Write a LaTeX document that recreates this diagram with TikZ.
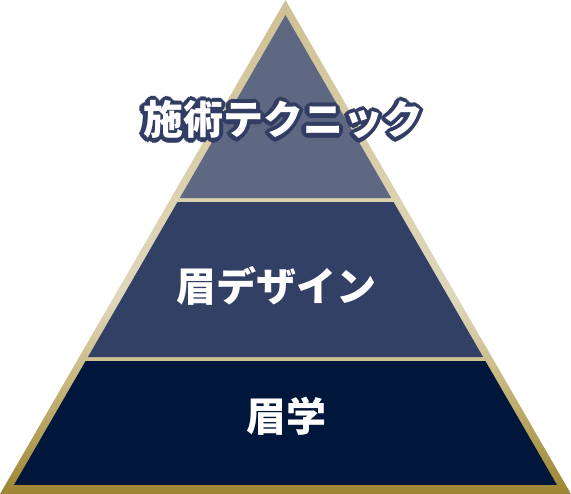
\documentclass[tikz,border=0pt]{standalone}
\usepackage{fontspec}
\setmainfont{Noto Sans CJK JP}
\usetikzlibrary{calc}
\definecolor{goldA}{HTML}{CFC194}
\definecolor{goldB}{HTML}{DCD2AF}
\definecolor{goldC}{HTML}{DFD7BC}
\definecolor{goldD}{HTML}{C8B87F}
\definecolor{goldE}{HTML}{9E8532}
\definecolor{layerTop}{HTML}{5E6882}
\definecolor{layerMid}{HTML}{334066}
\definecolor{layerBot}{HTML}{00163A}
\definecolor{outlineC}{HTML}{313D62}
\pgfdeclareverticalshading{goldshade}{100bp}{%
  color(0bp)=(goldE); color(25bp)=(goldE); color(36.5bp)=(goldD);
  color(44.6bp)=(goldC); color(54.8bp)=(goldB); color(75bp)=(goldA); color(100bp)=(goldA)}
\tikzset{
  layerlabel/.style={anchor=base, text=white, font=\bfseries\fontsize{40}{40}\selectfont, inner sep=0pt},
  outlinecopy/.style={anchor=base, text=outlineC, font=\bfseries\fontsize{40}{40}\selectfont, inner sep=0pt}
}
\begin{document}
\begin{tikzpicture}[x=1pt,y=-1pt]
\useasboundingbox (0,0) rectangle (571,494);
% outer gold frame
\coordinate (OA) at (285.5,0);
\coordinate (OL) at (0,494);
\coordinate (OR) at (571,494);
\path[shading=goldshade] (OA) -- (OL) -- (OR) -- cycle;
% inner triangle
\coordinate (A) at (285.5,15);
\coordinate (L) at (14,485);
\coordinate (R) at (557,485);
% top layer
\fill[layerTop] (A) -- ($(A)!0.3894!(L)$) -- ($(A)!0.3894!(R)$) -- cycle;
% middle layer
\fill[layerMid] ($(A)!0.3979!(L)$) -- ($(A)!0.7277!(L)$) -- ($(A)!0.7277!(R)$) -- ($(A)!0.3979!(R)$) -- cycle;
% bottom layer
\fill[layerBot] ($(A)!0.7362!(L)$) -- (L) -- (R) -- ($(A)!0.7362!(R)$) -- cycle;
% top label with outline
\foreach \ang in {0,22.5,...,337.5}{
  \node[outlinecopy] at ($(283,135)+(\ang:4.2)$) {施術テクニック};
}
\node[layerlabel] (toplabel) at (283,135) {施術テクニック};
\node[layerlabel] (midlabel) at (276,302) {眉デザイン};
\node[layerlabel] (botlabel) at (286,432) {眉学};
\end{tikzpicture}
\end{document}
